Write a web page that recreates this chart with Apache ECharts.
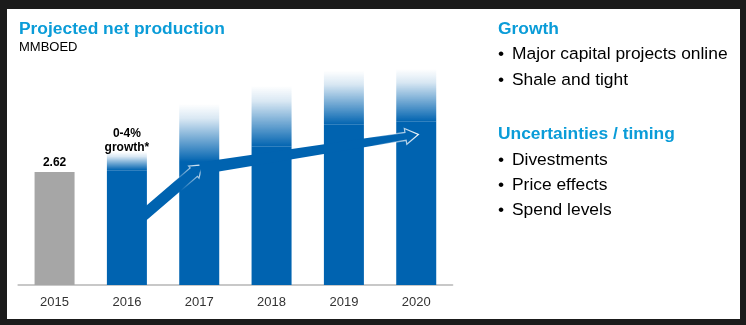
<!DOCTYPE html>
<html>
<head>
<meta charset="utf-8">
<script src="https://cdn.jsdelivr.net/npm/echarts@6/dist/echarts.min.js"></script>
<style>
  html, body { margin: 0; padding: 0; background: #1b1b1b; width: 746px; height: 325px; overflow: hidden; }
  #panel { position: absolute; left: 7px; top: 9px; width: 733px; height: 310px; background: #ffffff; }
  #chart { position: absolute; left: 0; top: 0; width: 746px; height: 325px; }
</style>
</head>
<body>
<div id="panel"></div>
<div id="chart"></div>
<script>
// ---- data ----
const categories = ['2015', '2016', '2017', '2018', '2019', '2020'];
const actualValues = [2.62, null, null, null, null, null];
const projectedLow = [null, 2.66, 2.85, 3.20, 3.71, 3.78];
const projectedHigh = [null, 3.08, 4.19, 4.61, 4.96, 5.00];
const barLabels = ['2.62', '0-4%\ngrowth*', '', '', '', ''];
// trend arrows: [xStart, yStart, xEnd, yEnd] in axis units (x: category index)
const trendArrows = [
  [1.18, 1.54, 2.04, 2.78],
  [2.01, 2.70, 5.03, 3.49]
];
const growthItems = ['Major capital projects online', 'Shale and tight'];
const uncertaintyItems = ['Divestments', 'Price effects', 'Spend levels'];

// ---- styles ----
const BLUE = '#0063b0';
const GRAY = '#a6a6a6';
const CYAN = '#0a9cd8';
const FONT = '"Liberation Sans", Arial, Helvetica, sans-serif';
const ARROW_SIZES = [
  { wt: 5.6, wn: 5.6, wh: 8, hl: 11, fadeFrom: 0.6 },
  { wt: 6, wn: 4, wh: 8, hl: 13, fadeFrom: 0.78 }
];

const fadeValues = projectedHigh.map((v, i) => (v == null || projectedLow[i] == null) ? '-' : +(v - projectedLow[i]).toFixed(3));
const solidValues = projectedLow.map(v => v == null ? '-' : v);
const grayValues = actualValues.map(v => v == null ? '-' : v);

function renderArrow(params, api) {
  const p0 = api.coord([api.value(0), api.value(1)]);
  const p1 = api.coord([api.value(2), api.value(3)]);
  const sz = ARROW_SIZES[params.dataIndex];
  const dx = p1[0] - p0[0], dy = p1[1] - p0[1];
  const L = Math.hypot(dx, dy);
  const ux = dx / L, uy = dy / L;
  const nx = -uy, ny = ux;
  const neck = [p1[0] - ux * sz.hl, p1[1] - uy * sz.hl];
  const pts = [
    [p0[0] + nx * sz.wt, p0[1] + ny * sz.wt],
    [neck[0] + nx * sz.wn, neck[1] + ny * sz.wn],
    [neck[0] + nx * sz.wh, neck[1] + ny * sz.wh],
    p1,
    [neck[0] - nx * sz.wh, neck[1] - ny * sz.wh],
    [neck[0] - nx * sz.wn, neck[1] - ny * sz.wn],
    [p0[0] - nx * sz.wt, p0[1] - ny * sz.wt]
  ];
  return {
    type: 'polygon',
    shape: { points: pts },
    style: {
      fill: BLUE,
      stroke: {
        type: 'linear', x: p0[0], y: p0[1], x2: p1[0], y2: p1[1], global: true,
        colorStops: [
          { offset: 0, color: 'rgba(255,255,255,0)' },
          { offset: sz.fadeFrom, color: 'rgba(255,255,255,0)' },
          { offset: 1, color: 'rgba(255,255,255,0.95)' }
        ]
      },
      lineWidth: 1.2
    }
  };
}

const chart = echarts.init(document.getElementById('chart'), null, { renderer: 'canvas' });

const bulletText = arr => arr.map(s => '{b|\u2022}{t|' + s + '}').join('\n');
const bulletRich = lh => ({
  b: { fontFamily: FONT, fontSize: 17.4, color: '#000', width: 14, lineHeight: lh },
  t: { fontFamily: FONT, fontSize: 17.4, color: '#000', lineHeight: lh }
});

chart.setOption({
  animation: false,
  backgroundColor: 'transparent',
  title: [
    { text: 'Projected net production', left: 19, top: 19, padding: 0,
      textStyle: { fontFamily: FONT, fontSize: 17.4, fontWeight: 'bold', color: CYAN, lineHeight: 20 } },
    { text: 'MMBOED', left: 19, top: 39, padding: 0,
      textStyle: { fontFamily: FONT, fontSize: 13, fontWeight: 'normal', color: '#000', lineHeight: 16 } },
    { text: 'Growth', left: 498, top: 19, padding: 0,
      textStyle: { fontFamily: FONT, fontSize: 17.4, fontWeight: 'bold', color: CYAN, lineHeight: 20 } },
    { text: bulletText(growthItems), left: 498, top: 41, padding: 0,
      textStyle: { fontFamily: FONT, fontSize: 17.4, fontWeight: 'normal', color: '#000', lineHeight: 26, rich: bulletRich(26) } },
    { text: 'Uncertainties / timing', left: 498, top: 124, padding: 0,
      textStyle: { fontFamily: FONT, fontSize: 17.4, fontWeight: 'bold', color: CYAN, lineHeight: 20 } },
    { text: bulletText(uncertaintyItems), left: 498, top: 147.5, padding: 0,
      textStyle: { fontFamily: FONT, fontSize: 17.4, fontWeight: 'normal', color: '#000', lineHeight: 25, rich: bulletRich(25) } }
  ],
  grid: { left: 18.4, right: 293.6, top: 26, bottom: 40, containLabel: false },
  xAxis: [
    {
      type: 'category', data: categories, boundaryGap: true,
      axisTick: { show: false },
      axisLine: { lineStyle: { color: '#c8c8c8', width: 2 } },
      axisLabel: { fontFamily: FONT, fontSize: 13, color: '#333', margin: 10, lineHeight: 14 },
      splitLine: { show: false }
    },
    { type: 'value', min: -0.5, max: 5.5, show: false }
  ],
  yAxis: { type: 'value', min: 0, max: 6, show: false, splitLine: { show: false } },
  series: [
    {
      name: 'Actual', type: 'bar', data: grayValues, barWidth: 40, barGap: '-100%',
      itemStyle: { color: GRAY },
      label: {
        show: true, position: 'top', distance: 2,
        formatter: p => barLabels[p.dataIndex],
        fontFamily: FONT, fontSize: 12, fontWeight: 'bold', color: '#000', lineHeight: 14
      }
    },
    {
      name: 'Projected', type: 'bar', stack: 'proj', data: solidValues, barWidth: 40,
      itemStyle: { color: BLUE }
    },
    {
      name: 'Range', type: 'bar', stack: 'proj', data: fadeValues, barWidth: 40,
      itemStyle: {
        color: {
          type: 'linear', x: 0, y: 0, x2: 0, y2: 1,
          colorStops: [
            { offset: 0, color: 'rgba(0,99,176,0.0)' },
            { offset: 0.25, color: 'rgba(0,99,176,0.15)' },
            { offset: 0.65, color: 'rgba(0,99,176,0.6)' },
            { offset: 1, color: 'rgba(0,99,176,1)' }
          ]
        }
      },
      label: {
        show: true, position: 'top', distance: -3,
        formatter: p => barLabels[p.dataIndex],
        fontFamily: FONT, fontSize: 12, fontWeight: 'bold', color: '#000', lineHeight: 14
      }
    },
    {
      name: 'Trend', type: 'custom', xAxisIndex: 1, yAxisIndex: 0,
      renderItem: renderArrow, data: trendArrows, z: 5, silent: true,
      encode: { x: [0, 2], y: [1, 3] }
    }
  ]
});
</script>
</body>
</html>
